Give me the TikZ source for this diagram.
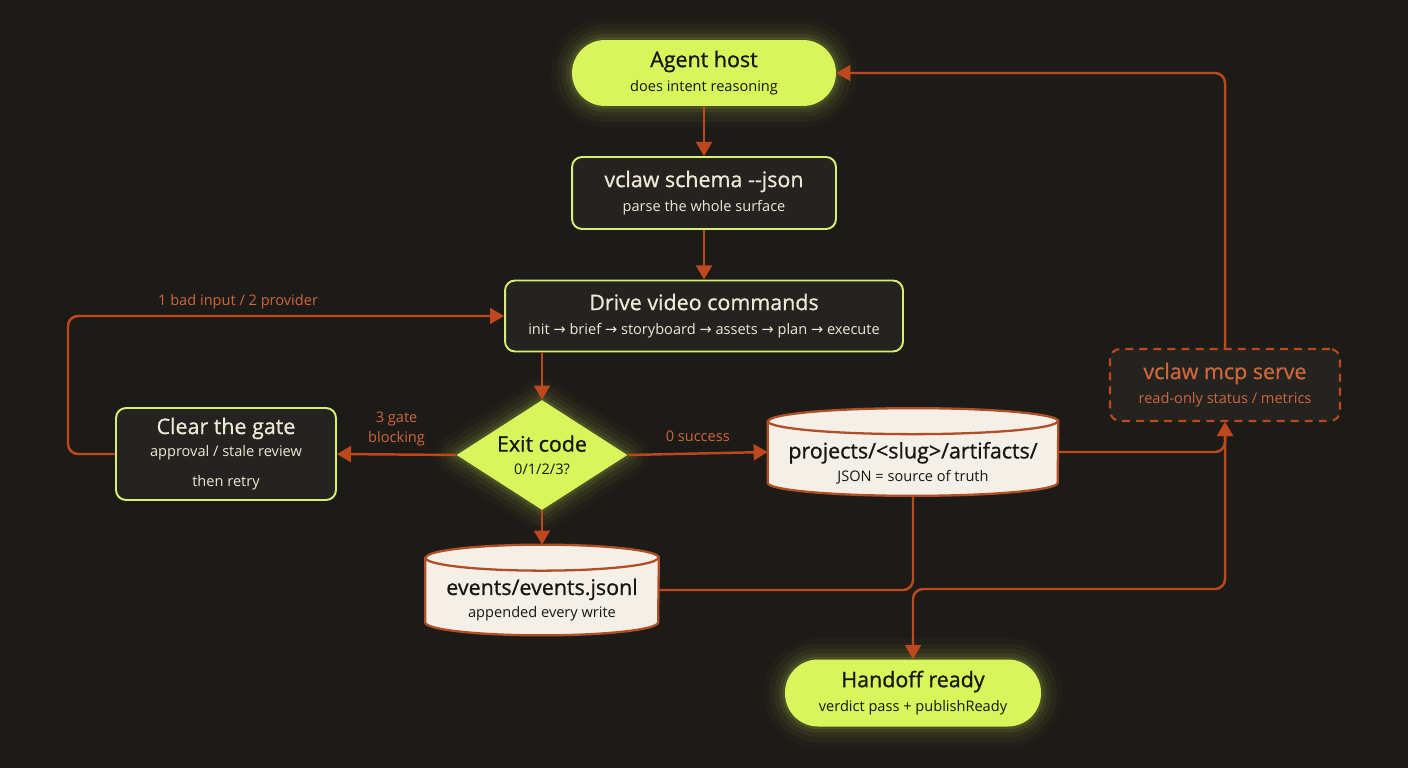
\documentclass[tikz,border=0pt]{standalone}
\usepackage{fontspec}
\setmainfont{Open Sans}
\newfontfamily\symfont{DejaVu Sans}
\newfontfamily\headfam[FakeBold=0.9]{Open Sans}
\usepackage{tikz}
\usetikzlibrary{positioning, shapes.geometric, arrows.meta, backgrounds, calc}

\definecolor{BgDark}{RGB}{29,27,23}
\definecolor{LimeFill}{RGB}{217,245,92}
\definecolor{LimeEdge}{RGB}{215,240,115}
\definecolor{BoxDark}{RGB}{37,35,31}
\definecolor{CreamText}{RGB}{240,232,214}
\definecolor{InkDark}{RGB}{22,22,18}
\definecolor{RustLine}{RGB}{188,72,28}
\definecolor{RustText}{RGB}{205,102,58}
\definecolor{DrumFill}{RGB}{244,240,232}
\definecolor{DrumEdge}{RGB}{176,78,38}

\newcommand{\boxtitle}{\headfam\fontsize{12.2}{14}\selectfont}
\newcommand{\boxnote}{\fontsize{8.3}{11}\selectfont}
\newcommand{\nextstep}{{\symfont →}}

% cylinder outline round an empty node: name, half width, ellipse radius
\newcommand{\drawdrum}[3]{%
  \path[drumbody] ([yshift=-#3]#1.north west) -- ([yshift=#3]#1.south west)
    arc[start angle=180, end angle=360, x radius=#2, y radius=#3]
    -- ([yshift=-#3]#1.north east)
    arc[start angle=0, end angle=180, x radius=#2, y radius=#3] -- cycle;
  \draw[drumrim] ([yshift=-#3]#1.north west)
    arc[start angle=180, end angle=360, x radius=#2, y radius=#3];
}

\tikzset{
  glow/.style={
    preaction={draw=LimeFill, line width=24pt, opacity=0.025, line join=round},
    preaction={draw=LimeFill, line width=18pt, opacity=0.035, line join=round},
    preaction={draw=LimeFill, line width=12pt, opacity=0.05, line join=round},
    preaction={draw=LimeFill, line width=7pt, opacity=0.07, line join=round},
    preaction={draw=LimeFill, line width=3pt, opacity=0.1, line join=round}},
  pill/.style={rectangle, rounded corners=0.66cm, fill=LimeFill, text=InkDark, align=center},
  darkbox/.style={rectangle, rounded corners=0.2cm, draw=LimeEdge, line width=1.1pt,
    fill=BoxDark, text=CreamText, align=center},
  gate/.style={diamond, aspect=1.55, inner sep=0pt, fill=LimeFill, text=InkDark, align=center},
  servebox/.style={rectangle, rounded corners=0.2cm, draw=RustLine, line width=1.2pt,
    dash pattern=on 4.5pt off 3.5pt, fill=BoxDark, text=RustText, align=center},
  drumspot/.style={rectangle, inner sep=0pt},
  drumtext/.style={text=InkDark, align=center, inner sep=1pt},
  drumbody/.style={fill=DrumFill, draw=DrumEdge, line width=1.3pt},
  drumrim/.style={draw=DrumEdge, line width=1.3pt},
  link/.style={draw=RustLine, line width=1.4pt, rounded corners=0.2cm},
  arrow/.style={link, -{Triangle[width=9pt,length=8pt]}},
  flowlabel/.style={text=RustText, align=center, font=\boxnote}
}

\begin{document}
\begin{tikzpicture}[x=0.02cm, y=0.02cm]
\useasboundingbox (0,0) rectangle (1408,768);
\begin{scope}[on background layer]
  \fill[BgDark] (0,0) rectangle (1408,768);
\end{scope}

% nodes
\node[pill, glow, minimum width=5.28cm, minimum height=1.32cm] (agent) at (704,695)
  {{\boxtitle Agent host}\\[2pt]{\boxnote does intent reasoning}};
\node[darkbox, minimum width=5.28cm, minimum height=1.44cm] (schema) at (704,575)
  {{\boxtitle vclaw schema {-}{-}json}\\[2pt]{\boxnote parse the whole surface}};
\node[darkbox, minimum width=7.96cm, minimum height=1.42cm] (drive) at (704,452)
  {{\boxtitle Drive video commands}\\[2pt]{\boxnote init \nextstep{} brief \nextstep{} storyboard \nextstep{} assets \nextstep{} plan \nextstep{} execute}};
\node[gate, glow, minimum width=3.42cm, minimum height=2.2cm] (exit) at (542,313)
  {{\boxtitle Exit code}\\[1pt]{\boxnote 0/1/2/3?}};
\node[darkbox, minimum width=4.4cm, minimum height=1.84cm] (clear) at (226,314)
  {{\boxtitle Clear the gate}\\[1pt]{\boxnote approval / stale review}\\[5pt]{\boxnote then retry}};
\node[drumspot, minimum width=5.8cm, minimum height=1.74cm] (projects) at (913,316) {};
\node[drumtext] (projects-label) at ([yshift=-0.22cm]projects.center)
  {{\boxtitle projects/<slug>/artifacts/}\\[1pt]{\boxnote JSON = source of truth}};
\node[drumspot, minimum width=4.66cm, minimum height=1.8cm] (events) at (542,178) {};
\node[drumtext] (events-label) at ([yshift=-0.2cm]events.center)
  {{\boxtitle events/events.jsonl}\\[1pt]{\boxnote appended every write}};
\node[servebox, minimum width=4.6cm, minimum height=1.44cm] (mcp) at (1225,383)
  {{\boxtitle vclaw mcp serve}\\[2pt]{\boxnote read-only status / metrics}};
\node[pill, glow, minimum width=5.12cm, minimum height=1.34cm] (hand) at (913,75)
  {{\boxtitle Handoff ready}\\[2pt]{\boxnote verdict pass + publishReady}};

% cylinders behind their labels
\begin{scope}[on background layer]
  \drawdrum{projects}{2.9cm}{0.26cm}
  \drawdrum{events}{2.33cm}{0.26cm}
\end{scope}

% connectors
\coordinate (retry) at (68,452);
\coordinate (fork) at (1000,179);
\draw[arrow] (agent) -- (schema);
\draw[arrow] (schema) -- (drive);
\draw[arrow] (drive.south -| exit.north) -- (exit.north);
\draw[arrow] (exit.west) -- node[flowlabel, above=1pt] {3 gate\\blocking} (clear.east);
\draw[arrow] (clear.west) -| (retry) -- node[flowlabel, above, pos=0.39] {1 bad input / 2 provider} (drive.west);
\draw[arrow] (exit.east) -- node[flowlabel, above=3pt] {0 success} (projects.west);
\draw[arrow] (exit.south) -- (events.north);
\draw[arrow] (projects.east) -| (mcp.south);
\draw[arrow] (mcp.north) |- (agent.east);
\draw[link] (events.east) -| (projects.south);
\draw[arrow] (fork) -| (hand.north);
\draw[arrow] (fork) -| (mcp.south);
\end{tikzpicture}
\end{document}
